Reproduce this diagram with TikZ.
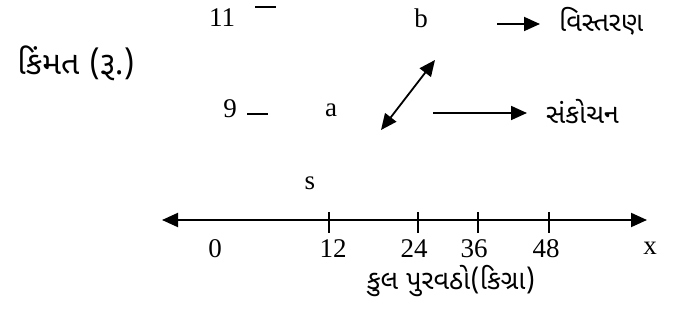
\documentclass[tikz,border=0pt]{standalone}
\usepackage{fontspec}
\setmainfont{Liberation Serif}
\newfontfamily\guj[Script=Gujarati]{Noto Sans Gujarati UI}
\usetikzlibrary{arrows.meta}
\tikzset{
  lbl/.style={inner sep=0pt, font=\fontsize{27}{30}\selectfont},
  gtxt/.style={inner sep=0pt, font=\guj\fontsize{27}{30}\selectfont},
  arr/.style={line width=1.8pt, -{Triangle[length=16pt,width=14pt]}},
  darr/.style={line width=1.8pt, {Triangle[length=16pt,width=14pt]}-{Triangle[length=16pt,width=14pt]}},
  tick/.style={line width=1.5pt},
  dashmark/.style={line width=1.3pt}
}
\begin{document}
\begin{tikzpicture}[x=1pt,y=-1pt]
\useasboundingbox (0,0) rectangle (678,320);
% y-axis labels
\node[lbl] (n11) at (222,18) {11};
\coordinate (d11a) at (255,7); \coordinate (d11b) at (276,7);
\draw[dashmark] (d11a) -- (d11b);
\node[gtxt, font=\guj\fontsize{32}{35}\selectfont] (price) at (76,63) {કિંમત (રૂ.)};
\node[lbl] (n9) at (230,109) {9};
\coordinate (d9a) at (247,114); \coordinate (d9b) at (268,114);
\draw[dashmark] (d9a) -- (d9b);
% points
\node[lbl] (a) at (331,110) {a};
\node[lbl] (b) at (421,18) {b};
\node[lbl] (s) at (310,183) {s};
% arrows
\coordinate (exs) at (497,24); \coordinate (exe) at (540,24);
\draw[arr] (exs) -- (exe);
\node[gtxt, anchor=west] (expand) at (559,21) {વિસ્તરણ};
\coordinate (dbl1) at (381,130); \coordinate (dbl2) at (435,60);
\draw[darr] (dbl1) -- (dbl2);
\coordinate (cs) at (433,113); \coordinate (ce) at (527,113);
\draw[arr] (cs) -- (ce);
\node[gtxt, anchor=west] (contract) at (546,112) {સંકોચન};
% axis
\coordinate (axl) at (162,220); \coordinate (axr) at (647,220);
\draw[darr, line width=2pt] (axl) -- (axr);
\foreach \t/\x in {t12/329, t24/418, t36/478, t48/549}{
  \coordinate (\t a) at (\x,212); \coordinate (\t b) at (\x,233);
  \draw[tick] (\t a) -- (\t b);
}
\node[lbl] (l0) at (215,249) {0};
\node[lbl] (l12) at (333,249) {12};
\node[lbl] (l24) at (414,249) {24};
\node[lbl] (l36) at (474,249) {36};
\node[lbl] (l48) at (546,249) {48};
\node[lbl] (lx) at (650,248) {x};
\node[gtxt] (supply) at (451,281) {કુલ પુરવઠો(કિગ્રા)};
\end{tikzpicture}
\end{document}
